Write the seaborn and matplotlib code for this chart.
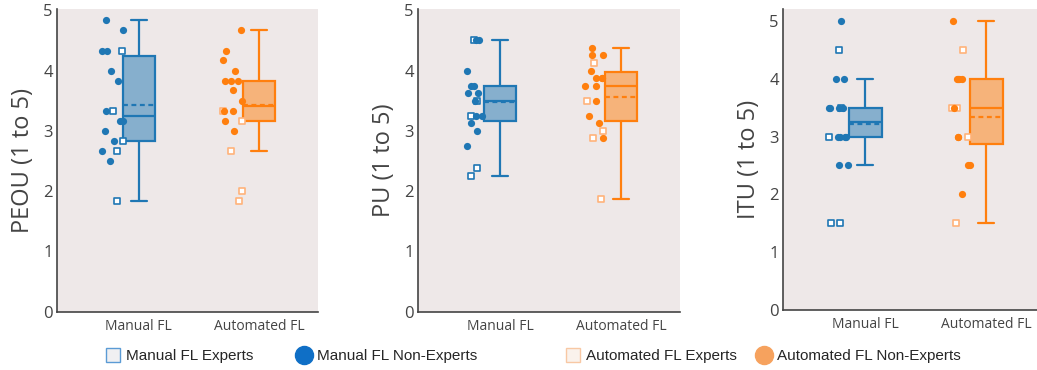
import numpy as np
import pandas as pd
import matplotlib
matplotlib.use('Agg')
import matplotlib.pyplot as plt
import seaborn as sns
from matplotlib.colors import to_rgba
from matplotlib.lines import Line2D

tools = ['Manual FL', 'Automated FL']
metrics = ['PEOU (1 to 5)', 'PU (1 to 5)', 'ITU (1 to 5)']

# scores (experts = open squares, non-experts = dots)
peou_manual_experts = [4.33, 3.33, 2.83, 2.67, 1.83]
peou_manual_nonexperts = [4.83, 4.67, 4.33, 4.33, 4.0, 3.83, 3.33, 3.17, 3.17, 3.0, 2.83, 2.67, 2.5]
peou_auto_experts = [3.33, 3.17, 2.67, 2.0, 1.83]
peou_auto_nonexperts = [4.67, 4.33, 4.17, 4.0, 3.83, 3.83, 3.83, 3.67, 3.5, 3.33, 3.33, 3.17, 3.0]

pu_manual_experts = [4.5, 3.5, 3.25, 2.375, 2.25]
pu_manual_nonexperts = [4.5, 4.5, 4.0, 3.75, 3.75, 3.625, 3.625, 3.5, 3.25, 3.25, 3.125, 3.0, 2.75]
pu_auto_experts = [4.125, 3.5, 3.0, 2.875, 1.875]
pu_auto_nonexperts = [4.375, 4.25, 4.25, 4.0, 3.875, 3.875, 3.875, 3.75, 3.75, 3.5, 3.25, 3.125, 2.875]

itu_manual_experts = [4.5, 3.5, 3.0, 1.5, 1.5]
itu_manual_nonexperts = [5.0, 4.0, 4.0, 3.5, 3.5, 3.5, 3.5, 3.0, 3.0, 3.0, 3.0, 2.5, 2.5]
itu_auto_experts = [4.5, 3.5, 3.5, 3.0, 1.5]
itu_auto_nonexperts = [5.0, 4.0, 4.0, 4.0, 4.0, 3.5, 3.0, 3.0, 2.5, 2.5, 2.0]

raw = {
    'PEOU (1 to 5)': [peou_manual_experts, peou_manual_nonexperts, peou_auto_experts, peou_auto_nonexperts],
    'PU (1 to 5)': [pu_manual_experts, pu_manual_nonexperts, pu_auto_experts, pu_auto_nonexperts],
    'ITU (1 to 5)': [itu_manual_experts, itu_manual_nonexperts, itu_auto_experts, itu_auto_nonexperts],
}

rows = []
for m in metrics:
    lists = raw[m]
    for i, tool in enumerate(tools):
        for grp, vals in zip(['Experts', 'Non-Experts'], lists[2 * i:2 * i + 2]):
            for v in vals:
                rows.append({'metric': m, 'tool': tool, 'idx': i, 'group': grp, 'score': v})
df = pd.DataFrame(rows)

colors = {'Manual FL': '#1f77b4', 'Automated FL': '#ff7f0e'}
square_edge = {'Manual FL': '#1f77b4', 'Automated FL': '#ffb37a'}
bg = '#eee8e8'
grey = '#444444'

sns.set_theme(style='white')
plt.rcParams['font.family'] = ['Open Sans', 'DejaVu Sans']
np.random.seed(4)

fig = plt.figure(figsize=(10.37, 3.7), dpi=100)
axes_pos = [
    [57 / 1037, 58.3 / 370, 261 / 1037, 302.7 / 370],
    [418 / 1037, 58.3 / 370, 262 / 1037, 302.7 / 370],
    [783 / 1037, 60 / 370, 254 / 1037, 300.7 / 370],
]
ylims = [(0, 5.02), (0, 5.02), (0, 5.2)]
xlims = [(-0.68, 1.49), (-0.68, 1.49), (-0.68, 1.42)]

for k, m in enumerate(metrics):
    ax = fig.add_axes(axes_pos[k])
    ax.set_facecolor(bg)
    d = df[df.metric == m]
    for tool in tools:
        c = colors[tool]
        sub = d[d.tool == tool]
        sns.boxplot(data=sub, x='idx', y='score', native_scale=True, width=0.27,
                    color=c, saturation=1, linecolor=c, linewidth=1.6, whis=1.6,
                    showfliers=False, showmeans=True, meanline=True,
                    meanprops=dict(color=c, linestyle=(0, (2.2, 1.6)), linewidth=1.6),
                    medianprops=dict(color=c, linewidth=1.6), ax=ax)
        sub2 = sub.assign(pos=sub.idx - 0.22)
        sns.stripplot(data=sub2[sub2.group == 'Experts'], x='pos', y='score', native_scale=True,
                      jitter=0.09, marker='s', color='white', edgecolor=square_edge[tool],
                      linewidth=1.2, size=5.0, ax=ax, zorder=4)
        sns.stripplot(data=sub2[sub2.group == 'Non-Experts'], x='pos', y='score', native_scale=True,
                      jitter=0.09, marker='o', color=c, linewidth=0, size=5.2, ax=ax, zorder=4)
    for p in ax.patches:
        fc = p.get_facecolor()
        p.set_facecolor(to_rgba(fc[:3], 0.5))
    ax.set_xlim(*xlims[k])
    ax.set_ylim(*ylims[k])
    ax.set_xticks(range(len(tools)))
    ax.set_xticklabels(tools, fontsize=10, color=grey)
    ax.set_yticks([0, 1, 2, 3, 4, 5])
    ax.set_yticklabels(['0', '1', '2', '3', '4', '5'], fontsize=12, color=grey)
    ax.tick_params(axis='both', length=0)
    ax.tick_params(axis='x', pad=5)
    ax.tick_params(axis='y', pad=3)
    ax.set_xlabel('')
    ax.set_ylabel(m, fontsize=17, color=grey, labelpad=6)
    for s in ['top', 'right']:
        ax.spines[s].set_visible(False)
    for s in ['left', 'bottom']:
        ax.spines[s].set_color(grey)
        ax.spines[s].set_linewidth(1.2)

legend_items = [
    (105 / 1037, 'Manual FL Experts', 's', 10, '#f0f0f2', '#5b9bd5'),
    (296 / 1037, 'Manual FL Non-Experts', 'o', 13, '#0f6fc6', '#0f6fc6'),
    (565 / 1037, 'Automated FL Experts', 's', 10, '#faf2ec', '#f8c8a4'),
    (756 / 1037, 'Automated FL Non-Experts', 'o', 13, '#f6a25e', '#f6a25e'),
]
for x, label, mk, ms, fc, ec in legend_items:
    h = Line2D([], [], linestyle='none', marker=mk, markersize=ms,
               markerfacecolor=fc, markeredgecolor=ec, markeredgewidth=1.0)
    fig.legend(handles=[h], labels=[label], loc='center left', bbox_to_anchor=(x, 0.038),
               frameon=False, handlelength=1.0, handletextpad=0.35, borderpad=0,
               borderaxespad=0, prop={'family': 'Liberation Sans', 'size': 11})

fig.savefig('out.png', dpi=100)
